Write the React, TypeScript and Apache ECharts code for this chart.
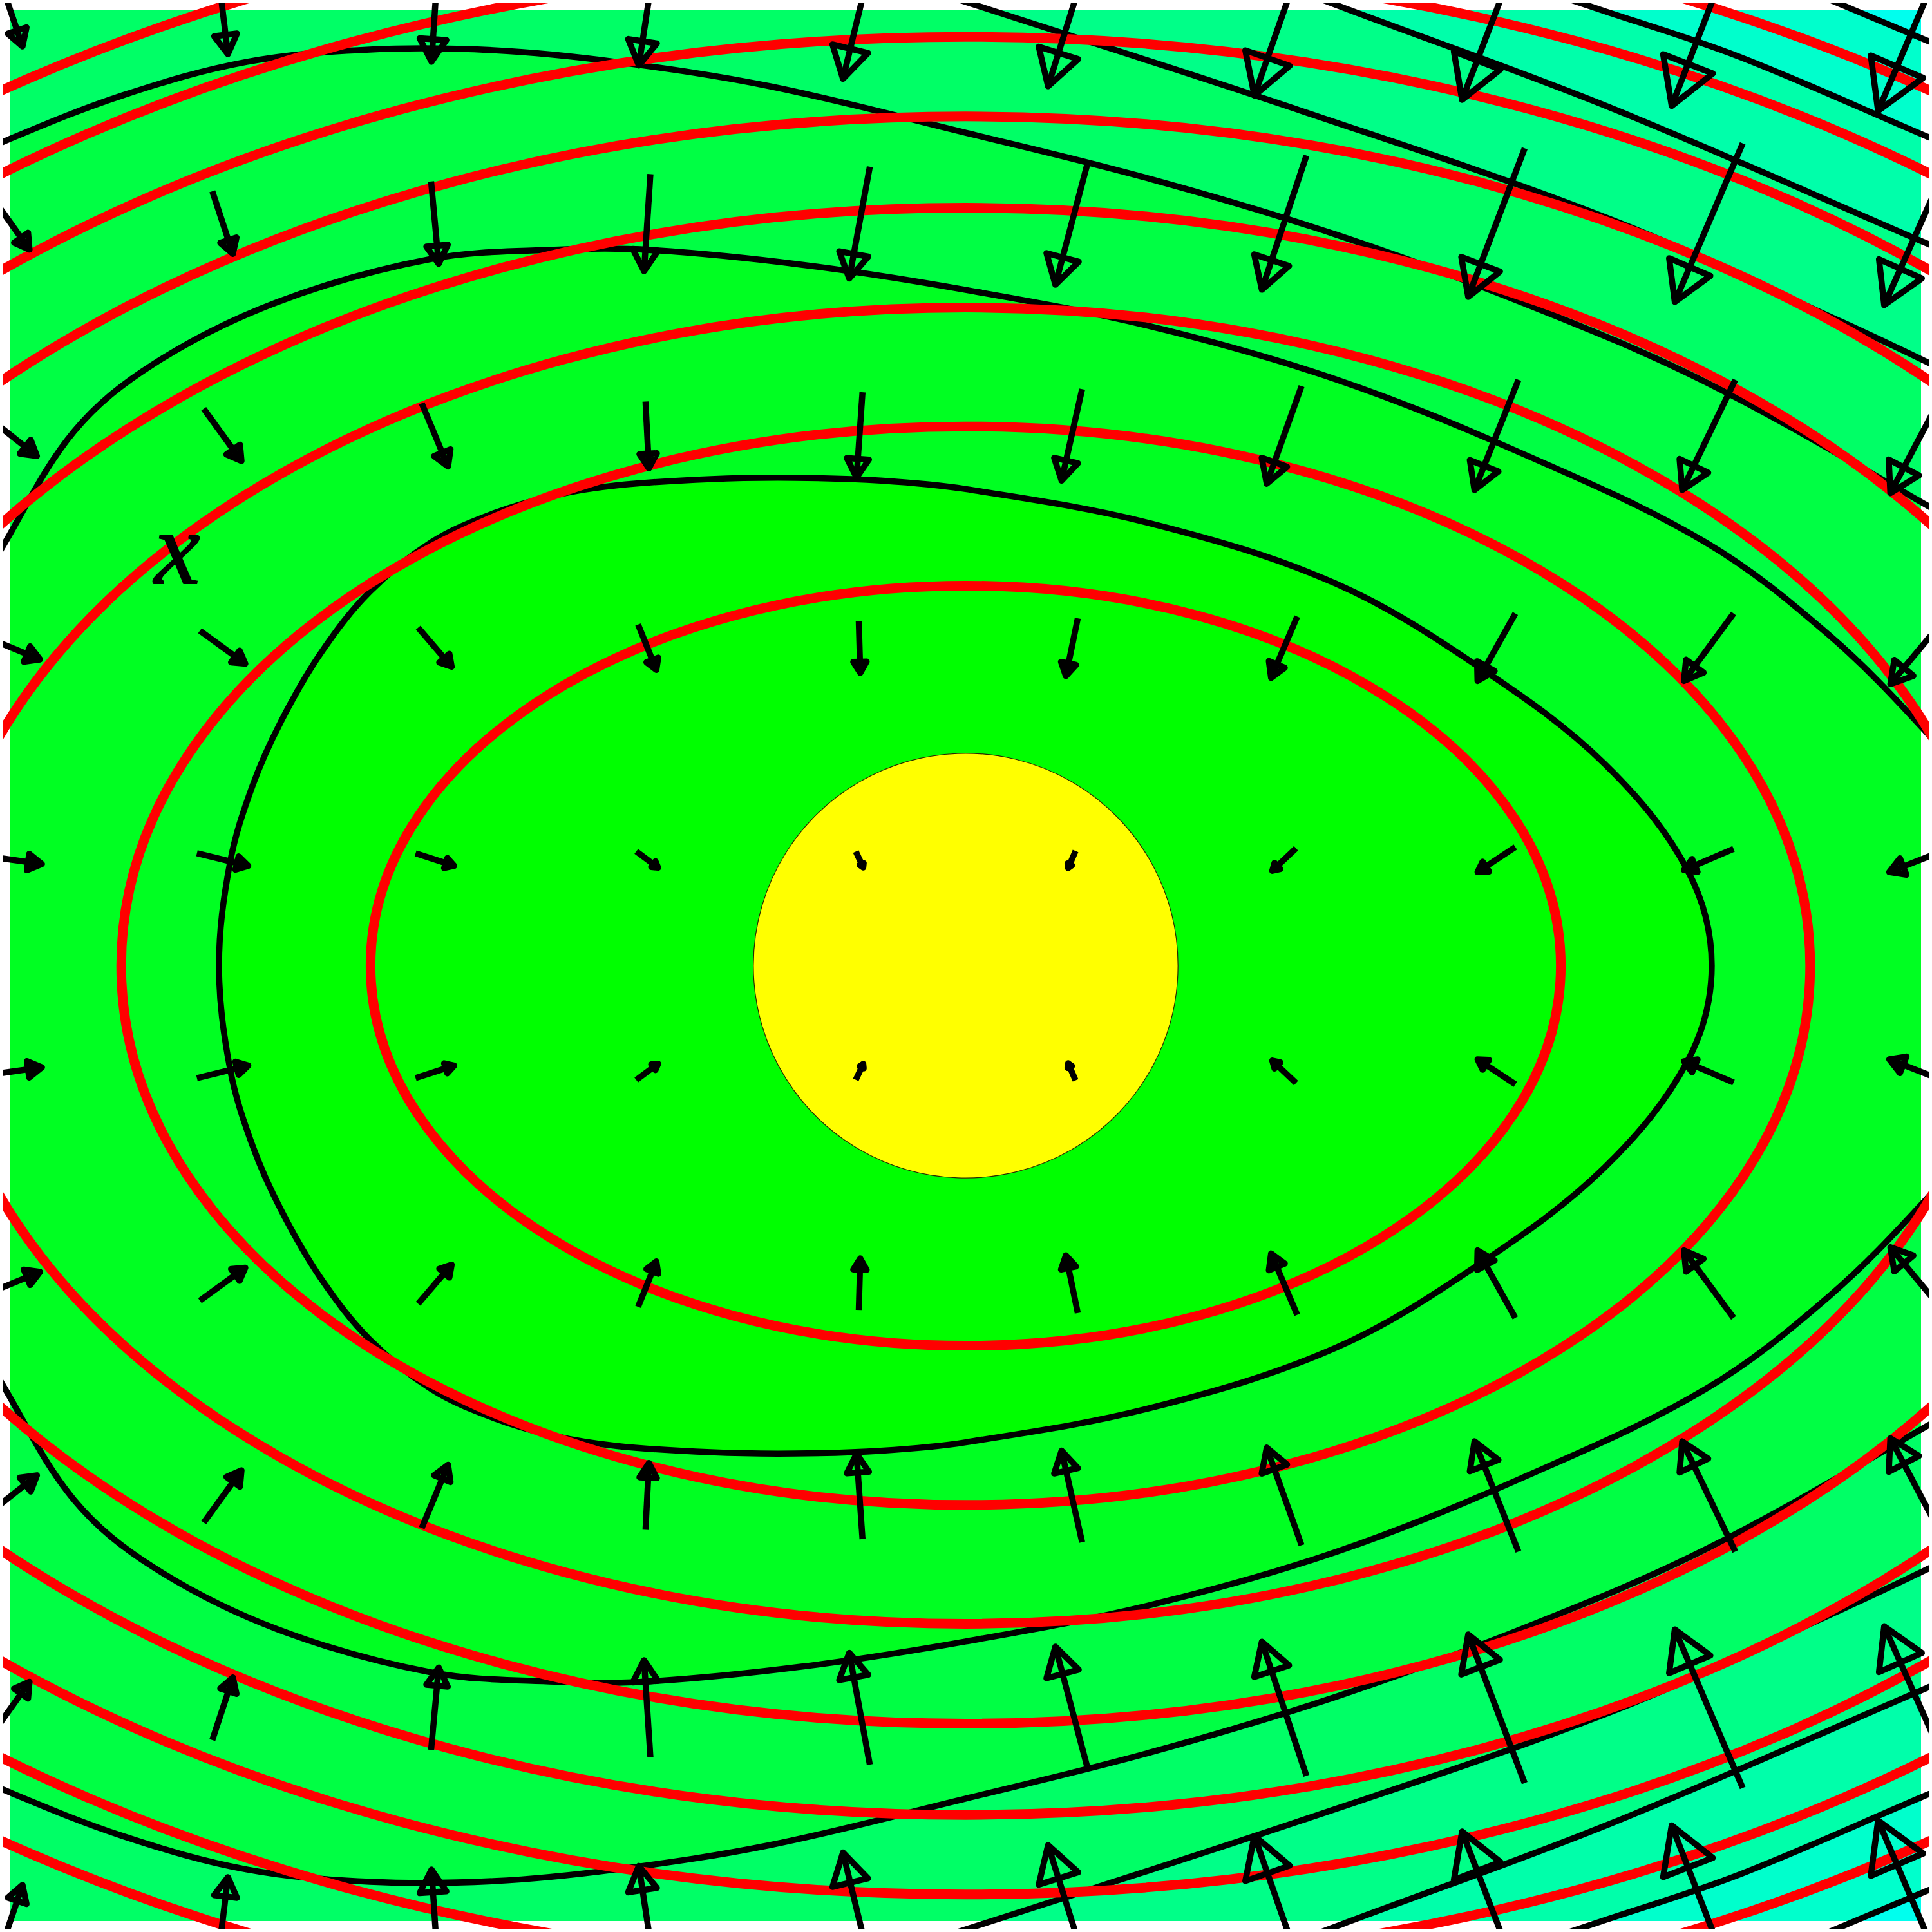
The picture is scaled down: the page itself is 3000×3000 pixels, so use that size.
import React, { useEffect, useRef } from 'react';
import * as echarts from 'echarts';

// ---------- data (data units: grid spacing = 1) ----------
const PLOT_MIN = -4.5;
const PLOT_MAX = 4.5;

// band colours, inner (0) to outer (7)
const bandColors = ['#00ff00', '#00ff22', '#00ff44', '#00ff66', '#00ff88', '#00ffaa', '#00ffcc', '#00ffee'];

// yellow disk radius
const diskRadius = [1.0];

// red contours: ellipses centred at origin, semi-axis along y, aspect (x/y)
const redSemiY = [1.79, 2.54, 3.1, 3.57, 4.0, 4.375, 4.725, 5.04];
const redAspect = 1.566;

// black contour 1 (closed)
const black1Loop = [
  [-3.517, 0], [-3.465, 0.486], [-3.36, 0.845], [-3.225, 1.15], [-3.037, 1.473], [-2.807, 1.761],
  [-2.516, 1.995], [-2.225, 2.13], [-1.937, 2.215], [-1.646, 2.262], [-1.2, 2.292], [-0.805, 2.298],
  [-0.4, 2.285], [0, 2.245], [0.872, 2.083], [1.743, 1.8], [2.428, 1.4], [3.01, 0.95], [3.4, 0.45], [3.514, 0],
  [3.4, -0.45], [3.01, -0.95], [2.428, -1.4], [1.743, -1.8], [0.872, -2.083], [0, -2.245], [-0.4, -2.285],
  [-0.805, -2.298], [-1.2, -2.292], [-1.646, -2.262], [-1.937, -2.215], [-2.225, -2.13], [-2.516, -1.995],
  [-2.807, -1.761], [-3.037, -1.473], [-3.225, -1.15], [-3.36, -0.845], [-3.465, -0.486],
];

const black2Upper = [
  [-5.05, 0.9], [-4.791, 1.515], [-4.533, 1.979], [-4.2, 2.516], [-3.824, 2.835], [-3.241, 3.126],
  [-2.516, 3.329], [-1.937, 3.372], [-1.5, 3.372], [-0.775, 3.302], [0, 3.183], [0.872, 3.011],
  [1.743, 2.762], [2.613, 2.416], [3.484, 1.995], [4.066, 1.558], [4.53, 1.094], [4.915, 0.636], [5.1, 0.3],
];
const black2Lower = [
  [-5.05, -0.9], [-4.791, -1.515], [-4.533, -1.979], [-4.2, -2.516], [-3.824, -2.835], [-3.241, -3.126],
  [-2.516, -3.329], [-1.937, -3.372], [-1.5, -3.372], [-0.775, -3.302], [0, -3.183], [0.872, -3.011],
  [1.743, -2.762], [2.613, -2.416], [3.484, -1.995], [4.066, -1.558], [4.53, -1.094], [4.915, -0.636], [5.1, -0.3],
];

const black3Upper = [
  [-5.3, 3.4], [-5.004, 3.668], [-4.533, 3.881], [-3.969, 4.1], [-3.387, 4.257], [-2.807, 4.315],
  [-2.225, 4.312], [-1.646, 4.257], [-0.921, 4.142], [0, 3.923], [0.872, 3.705], [1.743, 3.444],
  [2.613, 3.126], [3.484, 2.75], [4.53, 2.167], [5.006, 1.879], [5.3, 1.65],
];
const black3Lower = [
  [-5.3, -3.4], [-5.004, -3.668], [-4.533, -3.881], [-3.969, -4.1], [-3.387, -4.257], [-2.807, -4.315],
  [-2.225, -4.312], [-1.646, -4.257], [-0.921, -4.142], [0, -3.923], [0.872, -3.705], [1.743, -3.444],
  [2.613, -3.126], [3.484, -2.75], [4.53, -2.167], [5.006, -1.879], [5.3, -1.65],
];

const black4Upper = [[-0.75, 4.783], [-0.311, 4.64], [0.123, 4.5], [1.579, 4.027], [3.035, 3.517], [4.127, 3.032], [4.527, 2.844], [5.006, 2.608], [5.5, 2.33]];
const black4Lower = [[-0.75, -4.783], [-0.311, -4.64], [0.123, -4.5], [1.579, -4.027], [3.035, -3.517], [4.127, -3.032], [4.527, -2.844], [5.006, -2.608], [5.5, -2.33]];

const black5Upper = [[0.95, 4.81], [1.397, 4.655], [1.812, 4.5], [3.035, 4.042], [4.527, 3.402], [5.006, 3.2], [5.5, 2.98]];
const black5Lower = [[0.95, -4.81], [1.397, -4.655], [1.812, -4.5], [3.035, -4.042], [4.527, -3.402], [5.006, -3.2], [5.5, -2.98]];

const black6Upper = [[2.25, 4.75], [2.671, 4.609], [2.998, 4.5], [3.642, 4.282], [4.527, 3.906], [5.006, 3.703], [5.5, 3.48]];
const black6Lower = [[2.25, -4.75], [2.671, -4.609], [2.998, -4.5], [3.642, -4.282], [4.527, -3.906], [5.006, -3.703], [5.5, -3.48]];

const black7Upper = [[3.5, 4.79], [3.945, 4.603], [4.188, 4.5], [4.527, 4.358], [5.006, 4.157], [5.5, 3.95]];
const black7Lower = [[3.5, -4.79], [3.945, -4.603], [4.188, -4.5], [4.527, -4.358], [5.006, -4.157], [5.5, -3.95]];

// vector field: [x, y, u, v] (arrow centred at grid point)
const arrowField = [
  [-4.5, 4.5, 0.115, -0.34], [-3.5, 4.5, 0.05, -0.413], [-2.5, 4.5, -0.032, -0.485], [-1.5, 4.5, -0.079, -0.52], [-0.5, 4.5, -0.156, -0.646],
  [0.5, 4.5, -0.224, -0.716], [1.5, 4.5, -0.28, -0.803], [2.5, 4.5, -0.324, -0.843], [3.5, 4.5, -0.349, -0.901], [4.5, 4.5, -0.405, -0.948],
  [-4.5, 3.5, 0.181, -0.254], [-3.5, 3.5, 0.097, -0.295], [-2.5, 3.5, 0.036, -0.388], [-1.5, 3.5, -0.03, -0.457], [-0.5, 3.5, -0.097, -0.527],
  [0.5, 3.5, -0.155, -0.585], [1.5, 3.5, -0.21, -0.632], [2.5, 3.5, -0.266, -0.7], [3.5, 3.5, -0.32, -0.747], [4.5, 3.5, -0.347, -0.777],
  [-4.5, 2.5, 0.251, -0.199], [-3.5, 2.5, 0.178, -0.246], [-2.5, 2.5, 0.124, -0.298], [-1.5, 2.5, 0.016, -0.315], [-0.5, 2.5, -0.028, -0.402],
  [0.5, 2.5, -0.097, -0.431], [1.5, 2.5, -0.164, -0.46], [2.5, 2.5, -0.207, -0.519], [3.5, 2.5, -0.25, -0.519], [4.5, 2.5, -0.289, -0.548],
  [-4.5, 1.5, 0.28, -0.115], [-3.5, 1.5, 0.214, -0.155], [-2.5, 1.5, 0.158, -0.184], [-1.5, 1.5, 0.086, -0.214], [-0.5, 1.5, 0.007, -0.243],
  [0.5, 1.5, -0.056, -0.272], [1.5, 1.5, -0.123, -0.289], [2.5, 1.5, -0.178, -0.318], [3.5, 1.5, -0.234, -0.318], [4.5, 1.5, -0.289, -0.347],
  [-4.5, 0.5, 0.298, -0.042], [-3.5, 0.5, 0.242, -0.059], [-2.5, 0.5, 0.182, -0.059], [-1.5, 0.5, 0.103, -0.077], [-0.5, 0.5, 0.035, -0.075],
  [0.5, 0.5, -0.035, -0.081], [1.5, 0.5, -0.112, -0.106], [2.5, 0.5, -0.178, -0.118], [3.5, 0.5, -0.234, -0.1], [4.5, 0.5, -0.3, -0.118],
  [-4.5, -0.5, 0.298, 0.042], [-3.5, -0.5, 0.242, 0.059], [-2.5, -0.5, 0.182, 0.059], [-1.5, -0.5, 0.103, 0.077], [-0.5, -0.5, 0.035, 0.075],
  [0.5, -0.5, -0.035, 0.081], [1.5, -0.5, -0.112, 0.106], [2.5, -0.5, -0.178, 0.118], [3.5, -0.5, -0.234, 0.1], [4.5, -0.5, -0.3, 0.118],
  [-4.5, -1.5, 0.28, 0.115], [-3.5, -1.5, 0.214, 0.155], [-2.5, -1.5, 0.158, 0.184], [-1.5, -1.5, 0.086, 0.214], [-0.5, -1.5, 0.007, 0.243],
  [0.5, -1.5, -0.056, 0.272], [1.5, -1.5, -0.123, 0.289], [2.5, -1.5, -0.178, 0.318], [3.5, -1.5, -0.234, 0.318], [4.5, -1.5, -0.289, 0.347],
  [-4.5, -2.5, 0.251, 0.199], [-3.5, -2.5, 0.178, 0.246], [-2.5, -2.5, 0.124, 0.298], [-1.5, -2.5, 0.016, 0.315], [-0.5, -2.5, -0.028, 0.402],
  [0.5, -2.5, -0.097, 0.431], [1.5, -2.5, -0.164, 0.46], [2.5, -2.5, -0.207, 0.519], [3.5, -2.5, -0.25, 0.519], [4.5, -2.5, -0.289, 0.548],
  [-4.5, -3.5, 0.181, 0.254], [-3.5, -3.5, 0.097, 0.295], [-2.5, -3.5, 0.036, 0.388], [-1.5, -3.5, -0.03, 0.457], [-0.5, -3.5, -0.097, 0.527],
  [0.5, -3.5, -0.155, 0.585], [1.5, -3.5, -0.21, 0.632], [2.5, -3.5, -0.266, 0.7], [3.5, -3.5, -0.32, 0.747], [4.5, -3.5, -0.347, 0.777],
  [-4.5, -4.5, 0.115, 0.34], [-3.5, -4.5, 0.05, 0.413], [-2.5, -4.5, -0.032, 0.485], [-1.5, -4.5, -0.079, 0.52], [-0.5, -4.5, -0.156, 0.646],
  [0.5, -4.5, -0.224, 0.716], [1.5, -4.5, -0.28, 0.803], [2.5, -4.5, -0.324, 0.843], [3.5, -4.5, -0.349, 0.901], [4.5, -4.5, -0.405, 0.948],
];

const contourLabel = ['x'];

// ---------- layout ----------
const PLOT_LEFT = 16;
const PLOT_SIZE = 2967;
const UNIT = PLOT_SIZE / (PLOT_MAX - PLOT_MIN);
const OUTER_LEFT = 5;
const OUTER_SIZE = 2990;
const X1_MIN = PLOT_MIN - (PLOT_LEFT - OUTER_LEFT) / UNIT;
const X1_MAX = X1_MIN + OUTER_SIZE / UNIT;
const Y1_MAX = PLOT_MAX + (PLOT_LEFT - OUTER_LEFT) / UNIT;
const Y1_MIN = Y1_MAX - OUTER_SIZE / UNIT;
const SMOOTH = 0.35;
const BLACK_W = 9.5;
const RED_W = 15;
const ARROW_W = 9.5;

const closedRing = (upper: number[][], lower: number[][]) => upper.concat(lower.slice().reverse());
const openRing = (upper: number[][], lower: number[][]) => {
  const xl = upper[0][0];
  return upper.concat(lower.slice().reverse(), [[xl, -10], [-10, -10], [-10, 10], [xl, 10]]);
};

export default function App() {
  const ref = useRef<HTMLDivElement>(null);
  useEffect(() => {
    const chart = echarts.init(ref.current!, null, { renderer: 'svg' });

    const fills: { kind: string; pts?: number[][]; color: string }[] = [
      { kind: 'rect', color: bandColors[7] },
      { kind: 'poly', pts: openRing(black7Upper, black7Lower), color: bandColors[6] },
      { kind: 'poly', pts: openRing(black6Upper, black6Lower), color: bandColors[5] },
      { kind: 'poly', pts: openRing(black5Upper, black5Lower), color: bandColors[4] },
      { kind: 'poly', pts: openRing(black4Upper, black4Lower), color: bandColors[3] },
      { kind: 'poly', pts: closedRing(black3Upper, black3Lower), color: bandColors[2] },
      { kind: 'poly', pts: closedRing(black2Upper, black2Lower), color: bandColors[1] },
      { kind: 'poly', pts: black1Loop, color: bandColors[0] },
      { kind: 'disk', color: '#ffff00' },
    ];

    const strokes: { closed: boolean; pts: number[][] }[] = [
      { closed: true, pts: black1Loop },
      { closed: true, pts: closedRing(black2Upper, black2Lower) },
      { closed: true, pts: closedRing(black3Upper, black3Lower) },
      { closed: false, pts: black4Upper }, { closed: false, pts: black4Lower },
      { closed: false, pts: black5Upper }, { closed: false, pts: black5Lower },
      { closed: false, pts: black6Upper }, { closed: false, pts: black6Lower },
      { closed: false, pts: black7Upper }, { closed: false, pts: black7Lower },
    ];

    chart.setOption({
      animation: false,
      backgroundColor: '#ffffff',
      grid: [
        { left: PLOT_LEFT, top: PLOT_LEFT, width: PLOT_SIZE, height: PLOT_SIZE, show: false },
        { left: OUTER_LEFT, top: OUTER_LEFT, width: OUTER_SIZE, height: OUTER_SIZE, show: false },
      ],
      xAxis: [
        { type: 'value', gridIndex: 0, min: PLOT_MIN, max: PLOT_MAX, show: false },
        { type: 'value', gridIndex: 1, min: X1_MIN, max: X1_MAX, show: false },
      ],
      yAxis: [
        { type: 'value', gridIndex: 0, min: PLOT_MIN, max: PLOT_MAX, show: false },
        { type: 'value', gridIndex: 1, min: Y1_MIN, max: Y1_MAX, show: false },
      ],
      graphic: [
        {
          type: 'text',
          x: 275,
          y: 852,
          z: 100,
          style: {
            text: contourLabel[0],
            fontStyle: 'italic',
            fontSize: 160,
            fontFamily: 'Liberation Serif',
            fill: '#000000',
            stroke: '#000000',
            lineWidth: 2,
            align: 'center',
            verticalAlign: 'middle',
            textAlign: 'center',
            textVerticalAlign: 'middle',
          },
        },
      ],
      series: [
        {
          type: 'custom',
          name: 'bands',
          xAxisIndex: 0,
          yAxisIndex: 0,
          clip: true,
          silent: true,
          z: 1,
          data: fills.map(() => [0, 0]),
          renderItem: (params: any, api: any) => {
            const f = fills[params.dataIndex];
            if (f.kind === 'rect') {
              const a = api.coord([PLOT_MIN, PLOT_MAX]);
              const b = api.coord([PLOT_MAX, PLOT_MIN]);
              return { type: 'rect', z2: params.dataIndex, shape: { x: a[0], y: a[1], width: b[0] - a[0], height: b[1] - a[1] }, style: { fill: f.color } };
            }
            if (f.kind === 'disk') {
              const c = api.coord([0, 0]);
              const r = api.size([diskRadius[0], 0])[0];
              return { type: 'circle', z2: params.dataIndex, shape: { cx: c[0], cy: c[1], r }, style: { fill: f.color, stroke: '#2a2a00', lineWidth: 1.2 } };
            }
            return {
              type: 'polygon',
              z2: params.dataIndex,
              shape: { points: f.pts!.map((p) => api.coord(p)), smooth: SMOOTH },
              style: { fill: f.color, stroke: 'none' },
            };
          },
        },
        {
          type: 'custom',
          name: 'black contours',
          xAxisIndex: 1,
          yAxisIndex: 1,
          clip: true,
          silent: true,
          z: 2,
          data: strokes.map(() => [0, 0]),
          renderItem: (params: any, api: any) => {
            const s = strokes[params.dataIndex];
            return {
              type: s.closed ? 'polygon' : 'polyline',
              shape: { points: s.pts.map((p) => api.coord(p)), smooth: SMOOTH },
              style: { fill: 'none', stroke: '#000000', lineWidth: BLACK_W, lineJoin: 'round' },
            };
          },
        },
        {
          type: 'custom',
          name: 'red contours',
          xAxisIndex: 1,
          yAxisIndex: 1,
          clip: true,
          silent: true,
          z: 3,
          data: redSemiY.map((b) => [0, b]),
          renderItem: (params: any, api: any) => {
            const b = redSemiY[params.dataIndex];
            const c = api.coord([0, 0]);
            const ry = api.size([0, b])[1];
            const rx = api.size([b * redAspect, 0])[0];
            return {
              type: 'ellipse',
              shape: { cx: c[0], cy: c[1], rx, ry },
              style: { fill: 'none', stroke: '#ff0000', lineWidth: RED_W },
            };
          },
        },
        {
          type: 'custom',
          name: 'arrows',
          xAxisIndex: 1,
          yAxisIndex: 1,
          clip: true,
          silent: true,
          z: 4,
          data: arrowField,
          renderItem: (params: any, api: any) => {
            const x = api.value(0), y = api.value(1), u = api.value(2), v = api.value(3);
            const t = api.coord([x - u / 2, y - v / 2]);
            const h = api.coord([x + u / 2, y + v / 2]);
            const dx = h[0] - t[0], dy = h[1] - t[1];
            const L = Math.hypot(dx, dy) || 1;
            const ux = dx / L, uy = dy / L;
            const hl = L * 0.22, hw = L * 0.13;
            const bx = h[0] - ux * hl, by = h[1] - uy * hl;
            const p1 = [bx - uy * hw, by + ux * hw];
            const p2 = [bx + uy * hw, by - ux * hw];
            return {
              type: 'group',
              children: [
                { type: 'line', shape: { x1: t[0], y1: t[1], x2: h[0], y2: h[1] }, style: { stroke: '#000000', lineWidth: ARROW_W, lineCap: 'butt' } },
                { type: 'polygon', shape: { points: [h, p1, p2] }, style: { fill: 'none', stroke: '#000000', lineWidth: ARROW_W, lineJoin: 'round' } },
              ],
            };
          },
        },
      ],
    });
    return () => chart.dispose();
  }, []);
  return <div ref={ref} style={{ position: 'absolute', left: 0, top: 0, width: 3000, height: 3000 }} />;
}
